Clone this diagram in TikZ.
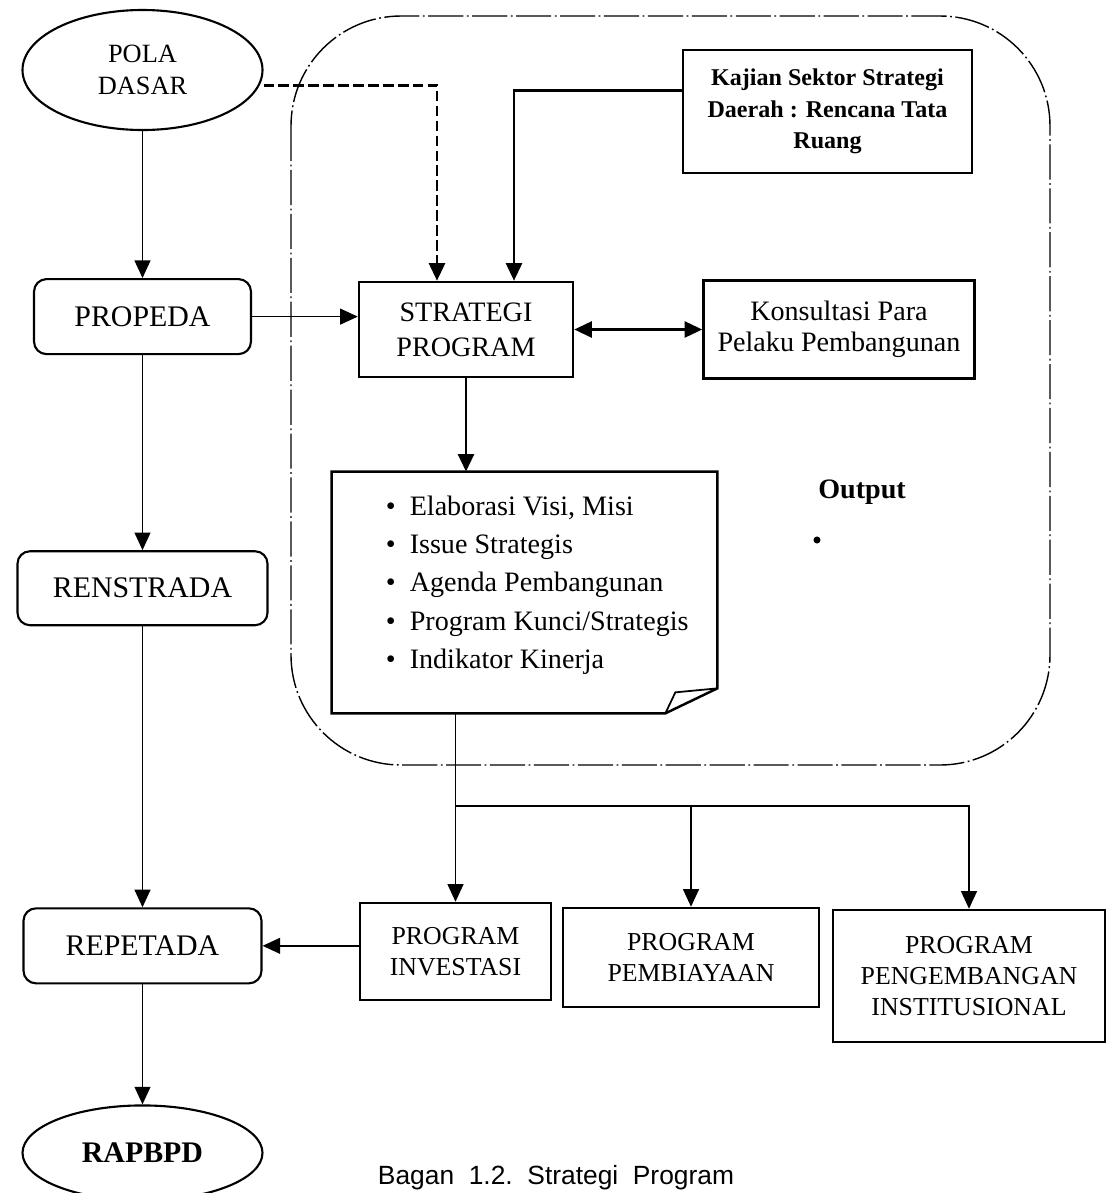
\documentclass[tikz,border=0pt]{standalone}
\usepackage{fontspec}
\setmainfont{Liberation Serif}
\newfontfamily\capfont{Liberation Sans}
\usetikzlibrary{arrows.meta}
\usetikzlibrary{shapes.geometric, positioning}
\usetikzlibrary{calc}
\tikzset{
    terminal/.style={
        ellipse,
        draw=black,
        line width=1.2pt,
        minimum width=4.8cm,
        minimum height=2.4cm,
        align=center
    },
    stage/.style={
        rectangle,
        rounded corners=0.25cm,
        draw=black,
        line width=1.2pt,
        minimum height=1.5cm,
        font=\fontsize{17}{20}\selectfont
    },
    box/.style={
        rectangle,
        draw=black,
        line width=1.4pt,
        align=center
    },
    progbox/.style={
        box,
        font=\fontsize{14.7}{17.6}\selectfont
    },
    arrow/.style={
        ->,
        >={Triangle[length=10pt,width=9pt]},
        line width=0.9pt,
        draw=black
    },
    thickarrow/.style={
        arrow,
        line width=1.7pt
    },
    dashedarrow/.style={
        arrow,
        line width=1.7pt,
        dash pattern=on 6pt off 2.5pt
    },
    region/.style={
        line width=0.8pt,
        rounded corners=2.2cm,
        dash pattern=on 20pt off 2pt on 1pt off 2pt
    }
}

\begin{document}
\begin{tikzpicture}
        \useasboundingbox (0,0) rectangle (22.14,-23.86);

        % Strategy region
        \draw[region] (5.82,-0.32) rectangle (21.0,-15.30);

        % Left column
        \node (pola) [terminal, font=\fontsize{15}{18}\selectfont] at (2.85,-1.40) {POLA\\DASAR};
        \node (propeda) [stage, minimum width=4.34cm, below=2.94cm of pola] {PROPEDA};
        \node (renstrada) [stage, minimum width=5.0cm, minimum height=1.48cm, below=3.9cm of propeda] {RENSTRADA};
        \node (repetada) [stage, minimum width=4.76cm, below=5.62cm of renstrada] {REPETADA};
        \node (rapbpd) [terminal, minimum height=1.9cm, font=\bfseries\fontsize{17}{20}\selectfont, below=2.4cm of repetada] {RAPBPD};

        % Strategy program
        \node (strategi) [box, minimum width=4.28cm, minimum height=1.9cm, font=\fontsize{16}{20}\selectfont] at (9.32,-6.59) {STRATEGI\\PROGRAM};
        \node (kajian) [box, minimum width=5.78cm, minimum height=2.46cm, font=\bfseries\fontsize{13.7}{18}\selectfont] at (16.55,-2.23) {Kajian Sektor Strategi\\Daerah : Rencana Tata\\Ruang};
        \node (konsultasi) [box, minimum width=5.42cm, minimum height=1.96cm, font=\fontsize{16}{17.5}\selectfont, right=2.56cm of strategi] {Konsultasi Para\\Pelaku Pembangunan};

        % Output document
        \node (doc) [rectangle, minimum width=7.7cm, minimum height=4.82cm] at (10.49,-11.85) {};
        \draw[line width=1.4pt] (doc.north west) -- (doc.north east) -- ([yshift=0.5cm]doc.south east) -- ([xshift=-1.04cm]doc.south east) -- (doc.south west) -- cycle;
        \draw[line width=1.0pt] ([xshift=-1.04cm]doc.south east) -- ([xshift=-0.84cm,yshift=0.42cm]doc.south east) -- ([yshift=0.5cm]doc.south east);
        \node (items) [anchor=west, align=left, font=\fontsize{16}{21.8}\selectfont] at ([xshift=0.96cm,yshift=0.15cm]doc.west) {\textbullet\enspace Elaborasi Visi, Misi\\\textbullet\enspace Issue Strategis\\\textbullet\enspace Agenda Pembangunan\\\textbullet\enspace Program Kunci/Strategis\\\textbullet\enspace Indikator Kinerja};
        \node (output) [font=\bfseries\fontsize{16}{19}\selectfont] at (17.24,-9.84) {Output};
        \node (outdot) [circle, fill=black, inner sep=0pt, minimum size=4pt] at (16.34,-10.80) {};

        % Programs
        \node (investasi) [progbox, minimum width=3.82cm, minimum height=1.94cm] at (9.11,-19.03) {PROGRAM\\INVESTASI};
        \node (pembiayaan) [progbox, minimum width=5.12cm, minimum height=1.98cm] at (13.82,-19.15) {PROGRAM\\PEMBIAYAAN};
        \node (institusional) [progbox, minimum width=5.44cm, minimum height=2.64cm] at (19.38,-19.52) {PROGRAM\\PENGEMBANGAN\\INSTITUSIONAL};

        % Caption
        \node (caption) [anchor=south, inner sep=0pt, font=\capfont\fontsize{15}{18}\selectfont] at (11.12,-23.80) {Bagan\ \ 1.2.\ \ Strategi\ \ Program};

        % Arrows
        \draw[arrow] (pola) -- (propeda);
        \draw[arrow] (propeda) -- (renstrada);
        \draw[arrow] (renstrada) -- (repetada);
        \draw[arrow] (repetada) -- (rapbpd);
        \draw[arrow] (propeda.east) -- (propeda.east -| strategi.west);
        \draw[dashedarrow] ([yshift=-0.3cm]pola.east) -| ([xshift=-0.58cm]strategi.north);
        \draw[thickarrow] ([yshift=0.42cm]kajian.west) -| ([xshift=0.96cm]strategi.north);
        \draw[thickarrow, <->] (strategi.east) -- (strategi.east -| konsultasi.west);
        \draw[thickarrow] (strategi.south) -- (strategi.south |- doc.north);

        \coordinate (fork) at ($(investasi.north)+(0,1.92)$);
        \draw[arrow] (doc.south -| investasi.north) -- (investasi.north);
        \draw[arrow] (fork) -| (pembiayaan.north);
        \draw[arrow] (fork) -| (institusional.north);
        \draw[arrow] (investasi.west |- repetada.east) -- (repetada.east);

\end{tikzpicture}
\end{document}
